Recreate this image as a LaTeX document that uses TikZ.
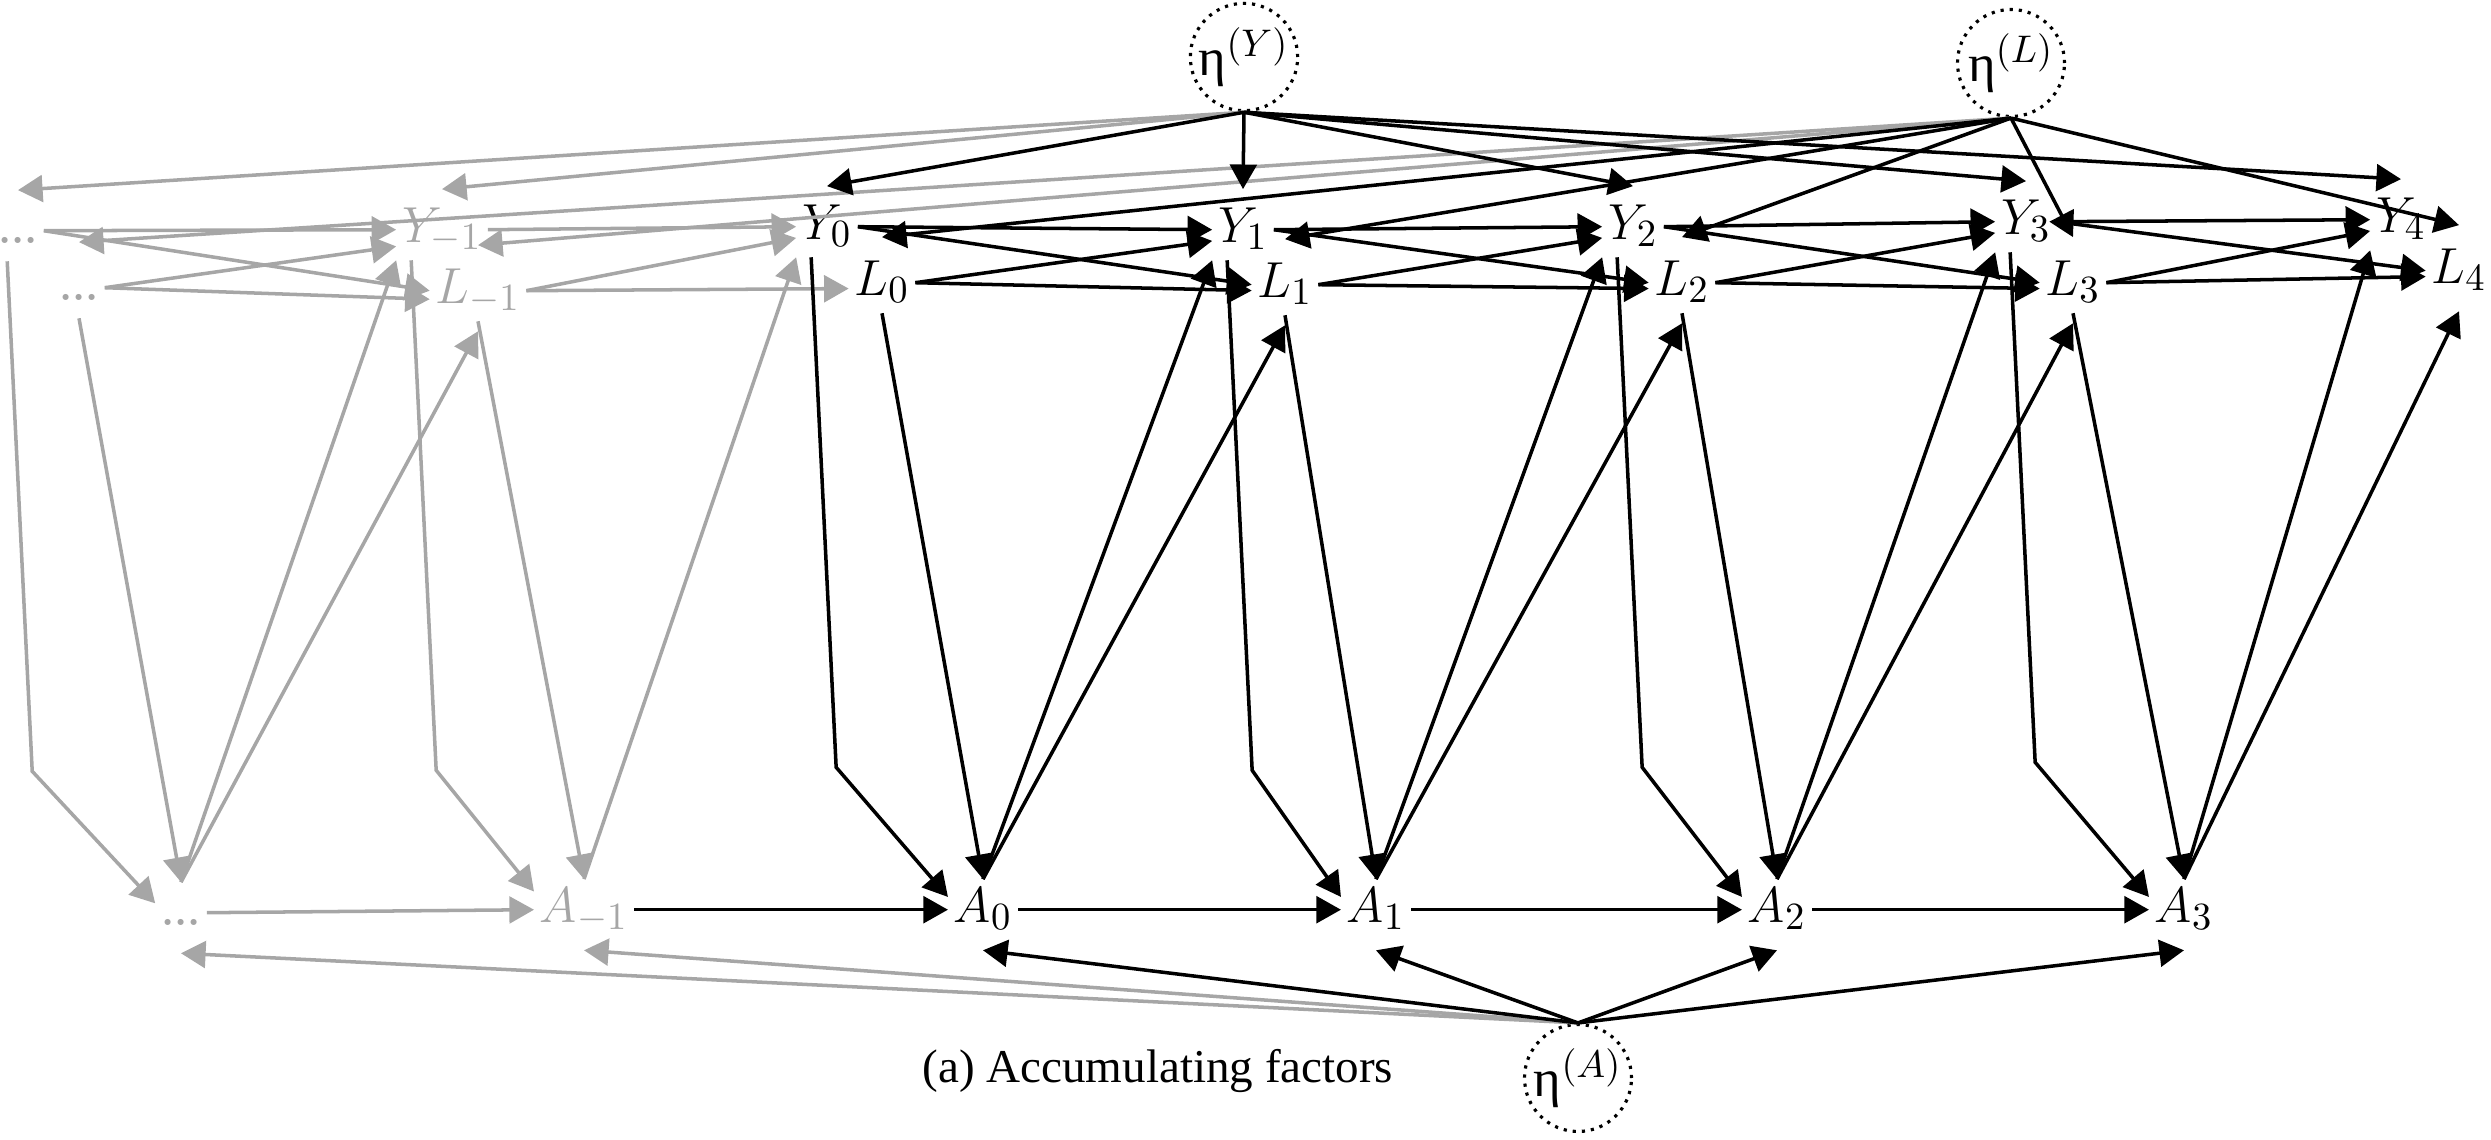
\documentclass[tikz,border=0pt]{standalone}
\usepackage{fontspec}
\newfontfamily\capfont{Liberation Serif}
\usetikzlibrary{arrows.meta}
\newcommand{\NodeFont}{\fontsize{15}{17}\selectfont}
\definecolor{pastgray}{RGB}{166,166,166}

\begin{document}
\begin{tikzpicture}[
    >={Triangle[length=7pt,width=7.6pt]},
    arr/.style={->, draw=black, line width=1pt},
    garr/.style={->, draw=pastgray, line width=1pt},
    V/.style={anchor=base, inner sep=1.5pt, font=\NodeFont, text height=10.5pt, text depth=3.5pt},
    G/.style={V, text=pastgray},
    E/.style={circle, draw=black, line width=0.9pt, dash pattern=on 0.9pt off 1.7pt,
              minimum size=10.7mm, inner sep=0pt, font=\NodeFont},
  ]
  \useasboundingbox (0,0) rectangle (24.91,11.39);

  %% ================= past slices (grey) =================
  \node[G] (Yd) at (0.18,8.96) {\fontsize{12}{14}\selectfont\bfseries...};
  \node[G] (Ym) at (4.42,8.97) {$Y_{-1}$};
  \node[G] (Ld) at (0.79,8.39) {\fontsize{12}{14}\selectfont\bfseries...};
  \node[G] (Lm) at (4.78,8.36) {$L_{-1}$};
  \node[G] (Ad) at (1.81,2.14) {\fontsize{12}{14}\selectfont\bfseries...};
  \node[G] (Am) at (5.84,2.17) {$A_{-1}$};

  %% ================= current slices =================
  \foreach \t/\x/\y in {0/8.27/9.00, 1/12.43/8.97, 2/16.33/9.00, 3/20.26/9.05, 4/24.01/9.07}
    \node[V] (Y\t) at (\x,\y) {$Y_{\t}$};
  \foreach \t/\x/\y in {0/8.82/8.44, 1/12.85/8.42, 2/16.82/8.44, 3/20.73/8.44, 4/24.59/8.56}
    \node[V] (L\t) at (\x,\y) {$L_{\t}$};
  \foreach \t/\x in {0/9.83, 1/13.76, 2/17.77, 3/21.84}
    \node[V] (A\t) at (\x,2.17) {$A_{\t}$};

  %% ================= noise terms and caption =================
  \node[E] (etaY) at (12.44,10.82) {{\capfont η}$^{(Y)}$};
  \node[E] (etaL) at (20.11,10.76) {{\capfont η}$^{(L)}$};
  \node[E] (etaA) at (15.78,0.61)  {{\capfont η}$^{(A)}$};
  \node[font=\capfont\fontsize{13.4}{16}\selectfont, anchor=base west] (caption) at (9.10,0.57)
    {(a) Accumulating factors};

  %% ================= grey edges of the past =================
  \draw[garr] (Yd.east) -- (Ym.west);
  \draw[garr] (Yd.east) -- (Lm.west);
  \draw[garr] (Ld.east) -- (Ym.200);
  \draw[garr] (Ld.east) -- (Lm.190);
  \draw[garr] (Ym.east) -- (Y0.west);
  \draw[garr] (Lm.east) -- (Y0.200);
  \draw[garr] (Lm.east) -- (L0.190);
  \foreach \t in {d,m} {
    \draw[garr] ([xshift=1.5mm]Y\t.south west) -- ++(0.25,-5.1) -- (A\t.160);
    \draw[garr] (L\t.south) -- (A\t.north);
    \draw[garr] (etaY.south) -- ([yshift=1mm]Y\t.north);
    \draw[garr] (etaL.south) -- ([yshift=1.5mm]L\t.north);
    \draw[garr] (etaA.north) -- ([yshift=-1mm]A\t.south);
  }
  \draw[garr] (Ad.north) -- (Ym.south west);
  \draw[garr] (Ad.north) -- ([yshift=-1mm]Lm.south);
  \draw[garr] (Am.north) -- (Y0.south west);
  \draw[garr] (Ad.east) -- (Am.west);

  %% ================= black edges =================
  \draw[arr] (Am.east) -- (A0.west);
  \foreach \t/\s in {0/1,1/2,2/3,3/4} {
    \draw[arr] (Y\t.east) -- (Y\s.west);
    \draw[arr] (Y\t.east) -- (L\s.west);
    \draw[arr] (L\t.east) -- (Y\s.200);
    \draw[arr] (L\t.east) -- (L\s.190);
    \draw[arr] ([xshift=1.5mm]Y\t.south west) -- ++(0.25,-5.1) -- (A\t.160);
    \draw[arr] (L\t.south) -- (A\t.north);
    \draw[arr] (A\t.north) -- (Y\s.south west);
    \draw[arr] (A\t.north) -- ([yshift=-1mm]L\s.south);
  }
  \foreach \t/\s in {0/1,1/2,2/3} { \draw[arr] (A\t.east) -- (A\s.west); }

  % each noise circle feeds every node of its row
  \foreach \t in {0,...,4} {
    \draw[arr] (etaY.south) -- ([yshift=1mm]Y\t.north);
    \draw[arr] (etaL.south) -- ([yshift=1.5mm]L\t.north);
  }
  \foreach \t in {0,...,3} { \draw[arr] (etaA.north) -- ([yshift=-1mm]A\t.south); }

\end{tikzpicture}
\end{document}
